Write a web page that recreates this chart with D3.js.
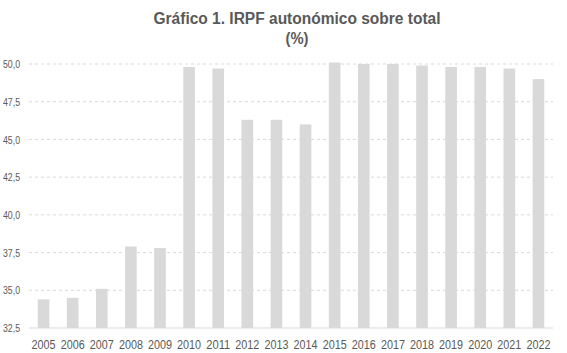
<!DOCTYPE html>
<html>
<head>
<meta charset="utf-8">
<script src="https://cdn.jsdelivr.net/npm/d3@7"></script>
<style>
  body { margin: 0; background: #fff; }
  text { font-family: "Liberation Sans", Arial, sans-serif; fill: #595959; }
</style>
</head>
<body>
<div id="chart"></div>
<script>
// data
var years = ["2005","2006","2007","2008","2009","2010","2011","2012","2013",
             "2014","2015","2016","2017","2018","2019","2020","2021","2022"];
var values = [34.4, 34.5, 35.1, 37.9, 37.8, 49.8, 49.7, 46.3, 46.3,
              46.0, 50.1, 50.0, 50.0, 49.9, 49.8, 49.8, 49.7, 49.0];
var yTicks = [32.5, 35.0, 37.5, 40.0, 42.5, 45.0, 47.5, 50.0];
var titleLines = ["Gráfico 1. IRPF autonómico sobre total", "(%)"];

var width = 567, height = 353;
var margin = {top: 64, right: 14, bottom: 25, left: 29};

var svg = d3.select("#chart").append("svg")
  .attr("width", width)
  .attr("height", height);

// scales
var x = d3.scaleBand()
  .domain(years)
  .range([margin.left, width - margin.right])
  .paddingInner(0.6)
  .paddingOuter(0.3);

var y = d3.scaleLinear()
  .domain([32.5, 50])
  .range([height - margin.bottom, margin.top]);

// dashed gridlines
svg.append("g")
  .selectAll("line")
  .data(yTicks.slice(1))
  .enter().append("line")
    .attr("x1", margin.left)
    .attr("x2", width - margin.right)
    .attr("y1", function(d) { return y(d); })
    .attr("y2", function(d) { return y(d); })
    .style("stroke", "#d9d9d9")
    .style("stroke-width", 1)
    .style("stroke-dasharray", "3,3");

// bars
svg.append("g")
  .selectAll("rect")
  .data(values)
  .enter().append("rect")
    .attr("x", function(d, i) { return x(years[i]); })
    .attr("y", function(d) { return y(d); })
    .attr("width", x.bandwidth())
    .attr("height", function(d) { return y(32.5) - y(d); })
    .style("fill", "#d9d9d9");

// base line
svg.append("line")
  .attr("x1", margin.left)
  .attr("x2", width - margin.right)
  .attr("y1", y(32.5))
  .attr("y2", y(32.5))
  .style("stroke", "#d9d9d9")
  .style("stroke-width", 1);

// y axis labels (narrow font look via textLength)
var fmt = function(d) { return d3.format(".1f")(d).replace(".", ","); };
var yAxis = d3.axisLeft(y).tickValues(yTicks).tickFormat(fmt).tickSize(0).tickPadding(0);
var gy = svg.append("g")
  .attr("transform", "translate(20,0)")
  .call(yAxis);
gy.select(".domain").remove();
gy.selectAll("text")
  .style("font-size", "11.5px")
  .attr("textLength", 17)
  .attr("lengthAdjust", "spacingAndGlyphs");

// x axis labels
var xAxis = d3.axisBottom(x).tickSize(0).tickPadding(12);
var gx = svg.append("g")
  .attr("transform", "translate(0," + y(32.5) + ")")
  .call(xAxis);
gx.select(".domain").remove();
gx.selectAll("text")
  .style("font-size", "13px")
  .attr("textLength", 24)
  .attr("lengthAdjust", "spacingAndGlyphs");

// title
svg.append("g")
  .selectAll("text")
  .data(titleLines)
  .enter().append("text")
    .attr("x", 297)
    .attr("y", function(d, i) { return 23.5 + i * 20; })
    .attr("text-anchor", "middle")
    .attr("textLength", function(d, i) { return i == 0 ? 287 : 23; })
    .attr("lengthAdjust", "spacingAndGlyphs")
    .style("font-size", "16px")
    .style("font-weight", "bold")
    .text(function(d) { return d; });
</script>
</body>
</html>
